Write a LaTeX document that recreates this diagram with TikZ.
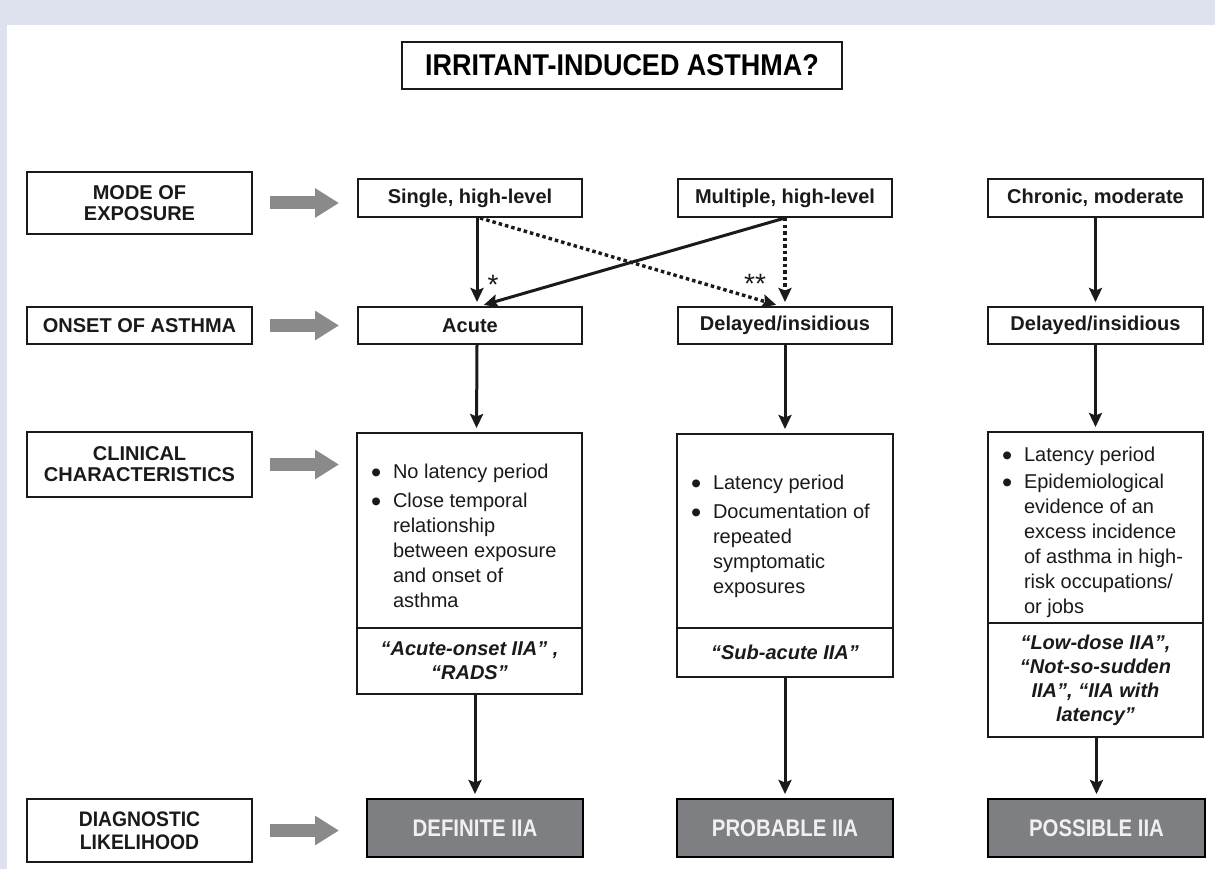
\documentclass[tikz,border=0pt]{standalone}
\usepackage{fontspec}
\setmainfont{Liberation Sans}
\usepackage{graphicx}
\usetikzlibrary{arrows.meta}
\definecolor{framebg}{HTML}{DEE2EE}
\definecolor{arrgrey}{HTML}{8A8A8A}
\definecolor{boxgrey}{HTML}{7E7F82}
\definecolor{inktext}{HTML}{1A1A1A}

\newcommand{\bul}[2][170pt]{\par\noindent\makebox[22pt][l]{\raisebox{-4pt}{\scalebox{1.45}{\textbullet}}}\parbox[t]{#1}{\raggedright #2}}
\newcommand{\narrowtext}[2][0.85]{\scalebox{#1}[1]{#2}}

\begin{document}
\begin{tikzpicture}[x=1pt, y=-1pt,
  lab/.style={draw=inktext, line width=2pt, fill=white, text=inktext, font=\fontsize{20}{21}\selectfont\bfseries, align=center, inner sep=0pt, minimum width=225pt},
  optbox/.style={draw=inktext, line width=2pt, fill=white, text=inktext, font=\fontsize{20}{24}\selectfont\bfseries, inner sep=0pt, minimum height=38pt},
  featbox/.style={draw=inktext, line width=2pt, text=inktext, font=\fontsize{20}{25}\selectfont, align=flush left, inner xsep=14pt, inner ysep=0pt},
  namebox/.style={draw=inktext, line width=2pt, text=inktext, font=\fontsize{20}{24}\selectfont\bfseries\itshape, align=center, inner sep=0pt},
  verdict/.style={draw=black, line width=2pt, fill=boxgrey, text=white!94!black, font=\fontsize{24}{24}\selectfont\bfseries, inner sep=0pt, minimum height=58pt},
  flow/.style={line width=3pt, draw=inktext, -{Stealth[length=14pt,width=13pt,inset=2.5pt]}, shorten >=4pt},
  maybe/.style={flow, line width=3.4pt, dash pattern=on 3.5pt off 3pt},
  toward/.style={line width=13pt, draw=arrgrey, -{Triangle[length=24pt,width=28pt]}},
  star/.style={font=\fontsize{28}{28}\selectfont, text=inktext, inner sep=0pt}
]
% frame
\fill[framebg] (0,0) rectangle (1215,869);
\fill[white] (7,25) rectangle (1215,869);
\useasboundingbox (0,0) rectangle (1215,869);

\node[draw=inktext, line width=2.5pt, fill=white, minimum width=440pt, minimum height=47pt, inner sep=0pt, font=\fontsize{30}{30}\selectfont\bfseries] (title) at (622,65.5) {\narrowtext[0.9]{IRRITANT-INDUCED ASTHMA?}};

% row labels
\node[lab, minimum height=62pt] (mode) at (139.5,203) {MODE OF\\EXPOSURE};
\node[lab, minimum height=37pt] (onset) at (139.5,325.5) {ONSET OF ASTHMA};
\node[lab, minimum height=65pt] (clin) at (139.5,464.5) {CLINICAL\\CHARACTERISTICS};
\node[lab, minimum height=63pt, font=\fontsize{21}{23}\selectfont\bfseries] (diag) at (139.5,830.5) {\narrowtext[0.92]{DIAGNOSTIC}\\\narrowtext[0.92]{LIKELIHOOD}};

% mode of exposure
\node[optbox, minimum width=224pt] (single) at (470,198) {Single, high-level};
\node[optbox, minimum width=214pt] (multiple) at (785,198) {Multiple, high-level};
\node[optbox, minimum width=215pt] (chronic) at (1095.5,198) {Chronic, moderate};

% onset
\node[optbox, minimum width=224pt, minimum height=37pt] (acute) at (470,325.5) {Acute};
\node[optbox, minimum width=214pt, minimum height=37pt] (delayA) at (785,325.5) {Delayed/insidious};
\node[optbox, minimum width=215pt, minimum height=37pt] (delayB) at (1095.5,325.5) {Delayed/insidious};

% clinical characteristics
\node[featbox, text width=197pt, minimum height=195pt] (featA) at (469.5,530.5)
  {\bul[175pt]{No latency period}\par\vspace{4pt}\bul[175pt]{Close temporal\\relationship\\between exposure\\and onset of\\asthma}};
\node[featbox, text width=188pt, minimum height=194pt] (featB) at (785,531)
  {\bul[166pt]{Latency period}\par\vspace{4pt}\bul[166pt]{Documentation of\\repeated\\symptomatic\\exposures}};
\node[featbox, text width=187pt, minimum height=191pt] (featC) at (1095.5,527.5)
  {\bul[165pt]{Latency period}\par\vspace{2pt}\bul[165pt]{Epidemiological\\evidence of an\\excess incidence\\of asthma in high-\\risk occupations/\\or jobs}};
\node[namebox, minimum width=225pt, minimum height=66pt] (nameA) at (469.5,661) {“Acute-onset IIA” ,\\“RADS”};
\node[namebox, minimum width=216pt, minimum height=49pt] (nameB) at (785,652.5) {“Sub-acute IIA”};
\node[namebox, minimum width=215pt, minimum height=114pt] (nameC) at (1095.5,680) {“Low-dose IIA”,\\“Not-so-sudden\\IIA”, “IIA with\\latency”};

% diagnostic likelihood
\node[verdict, minimum width=216pt] (definite) at (475,828) {\narrowtext{DEFINITE IIA}};
\node[verdict, minimum width=216pt] (probable) at (785,828) {\narrowtext{PROBABLE IIA}};
\node[verdict, minimum width=217pt] (possible) at (1096.5,828) {\narrowtext{POSSIBLE IIA}};

% exposure to onset
\draw[flow] ([xshift=7pt]single.south) -- ([xshift=7pt]acute.north);
\draw[flow] (multiple.south) -- ([xshift=10pt]acute.north);
\draw[maybe] ([xshift=10pt]single.south) -- ([xshift=-5pt]delayA.north);
\draw[maybe] (multiple.south) -- (delayA.north);
\draw[flow] (chronic.south) -- (delayB.north);
\node[star] (oneStar) at (493,285) {*};
\node[star] (twoStar) at (755,284) {**};

% onset to clinical, clinical to likelihood
\draw[flow] ([xshift=7pt]acute.south) -- ([xshift=7pt]featA.north);
\draw[flow] (delayA.south) -- (featB.north);
\draw[flow] (delayB.south) -- (featC.north);
\draw[flow] (nameA.south -| definite.north) -- (definite.north);
\draw[flow] (nameB.south) -- (probable.north);
\draw[flow] (nameC.south -| possible.north) -- (possible.north);

% grey arrows
\foreach \row in {mode, onset, clin, diag}
  \draw[toward] ([xshift=17pt]\row.east) -- ([xshift=-17pt]\row.east -| featA.west);
\end{tikzpicture}
\end{document}
